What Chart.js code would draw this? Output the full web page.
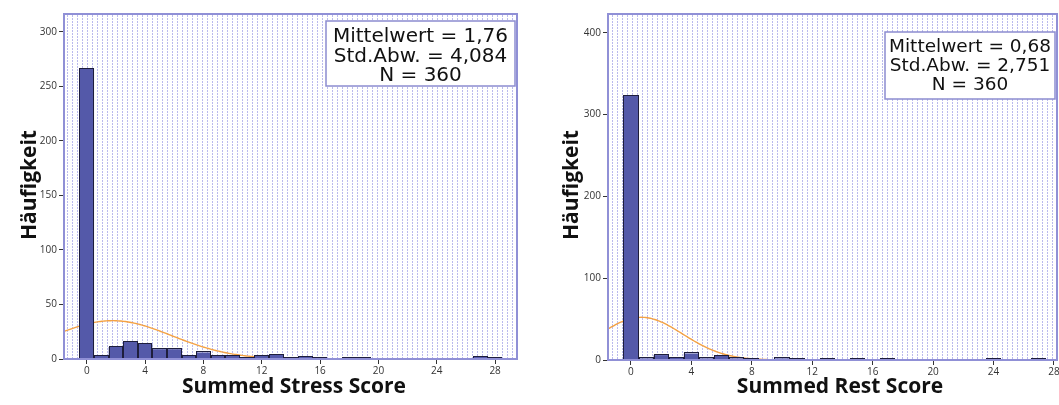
<!DOCTYPE html>
<html>
<head>
<meta charset="utf-8">
<script src="https://cdn.jsdelivr.net/npm/chart.js@4/dist/chart.umd.min.js"></script>
<style>
  html, body { margin: 0; padding: 0; background: #ffffff; }
  body { width: 1059px; height: 405px; position: relative; overflow: hidden; }
  .panel { position: absolute; top: 0; height: 405px; }
  #stressPanel { left: 0; width: 530px; }
  #restPanel { left: 540px; width: 519px; }
</style>
</head>
<body>
<div class="panel" id="stressPanel"><canvas id="stressChart" width="530" height="405"></canvas></div>
<div class="panel" id="restPanel"><canvas id="restChart" width="519" height="405"></canvas></div>
<script>
// Histogram bins (score value) and their frequencies
const stressBins   = [0, 1, 2, 3, 4, 5, 6, 7, 8, 9, 10, 11, 12, 13, 14, 15, 16, 18, 19, 27, 28];
const stressCounts = [266, 3, 11, 16, 14, 9, 9, 3, 6, 3, 3, 1, 3, 4, 1, 2, 1, 1, 1, 2, 1];
const restBins     = [0, 1, 2, 3, 4, 5, 6, 7, 8, 10, 11, 13, 15, 17, 24, 27];
const restCounts   = [323, 2, 6, 3, 8, 2, 5, 2, 1, 2, 1, 1, 1, 1, 1, 1];

// Summary statistics shown in the info boxes
const stressStats = { mean: 1.76, sd: 4.084, n: 360 };
const restStats   = { mean: 0.68, sd: 2.751, n: 360 };
const stressInfo  = ['Mittelwert = 1,76', 'Std.Abw. = 4,084', 'N = 360'];
const restInfo    = ['Mittelwert = 0,68', 'Std.Abw. = 2,751', 'N = 360'];

// Tick labels
const xTicks       = [0, 4, 8, 12, 16, 20, 24, 28];
const stressYTicks = [0, 50, 100, 150, 200, 250, 300];
const restYTicks   = [0, 100, 200, 300, 400];

// Axis titles
const yTitle       = 'Häufigkeit';
const stressXTitle = 'Summed Stress Score';
const restXTitle   = 'Summed Rest Score';

// Expected frequencies of a normal distribution with the given mean/SD (bin width 1)
function normalCurve(stats, from, to) {
  const pts = [];
  const k = stats.n / (stats.sd * Math.sqrt(2 * Math.PI));
  for (let x = from; x <= to + 1e-9; x += 0.1) {
    const z = (x - stats.mean) / stats.sd;
    pts.push({ x: x, y: k * Math.exp(-0.5 * z * z) });
  }
  return pts;
}

function dotPattern(ctx) {
  const c = document.createElement('canvas');
  c.width = 5; c.height = 3;
  const g = c.getContext('2d');
  g.fillStyle = '#ffffff';
  g.fillRect(0, 0, 5, 3);
  g.fillStyle = 'rgba(130,130,222,0.55)';
  g.fillRect(2, 0, 1, 2);
  return ctx.createPattern(c, 'repeat');
}

const panelDecor = {
  id: 'panelDecor',
  beforeDraw(chart, args, o) {
    const { ctx, chartArea: a } = chart;
    ctx.save();
    ctx.fillStyle = dotPattern(ctx);
    ctx.fillRect(a.left, a.top, a.right - a.left, a.bottom - a.top);
    ctx.restore();
  },
  afterDatasetsDraw(chart, args, o) {
    const { ctx, chartArea: a } = chart;
    ctx.save();
    // dark outline around every histogram bar (kept visible even for 1-count bins)
    ctx.strokeStyle = '#1e1e3c';
    ctx.lineWidth = 1;
    chart.getDatasetMeta(0).data.forEach(bar => {
      const p = bar.getProps(['x', 'y', 'base', 'width'], true);
      const l = Math.round(p.x - p.width / 2) + 0.5;
      const r = Math.round(p.x + p.width / 2) - 0.5;
      const t = Math.round(p.y) - 0.5;
      const b = Math.round(p.base) - 0.5;
      ctx.strokeRect(l, t, r - l, b - t);
    });
    // plot frame
    ctx.strokeStyle = '#9090d6';
    ctx.lineWidth = 2;
    ctx.strokeRect(a.left, a.top, a.right - a.left, a.bottom - a.top);
    // statistics box
    const bx = a.right - o.boxRight - o.boxW, by = a.top + o.boxTop;
    ctx.fillStyle = '#ffffff';
    ctx.fillRect(bx, by, o.boxW, o.boxH);
    ctx.strokeStyle = '#8c8cd0';
    ctx.lineWidth = 1.5;
    ctx.strokeRect(bx, by, o.boxW, o.boxH);
    ctx.fillStyle = '#111111';
    ctx.font = o.boxFont;
    ctx.textAlign = 'center';
    ctx.textBaseline = 'middle';
    o.lines.forEach((t, i) => ctx.fillText(t, bx + o.boxW / 2, by + o.lineY[i]));
    ctx.restore();
  },
  afterDraw(chart, args, o) {
    const ctx = chart.ctx;
    ctx.save();
    ctx.fillStyle = '#111111';
    ctx.font = 'bold 21px "Open Sans", sans-serif';
    ctx.textAlign = 'center';
    ctx.textBaseline = 'middle';
    ctx.fillText(o.xTitle, o.xTitleX, o.xTitleY);
    ctx.translate(o.yTitleX, o.yTitleY);
    ctx.rotate(-Math.PI / 2);
    ctx.fillText(o.yTitle, 0, 0);
    ctx.restore();
  }
};

function histogram(canvasId, p) {
  const tickFont = { family: '"Open Sans", sans-serif', size: 10 };
  return new Chart(document.getElementById(canvasId), {
    type: 'bar',
    data: {
      datasets: [
        {
          type: 'bar',
          data: p.bins.map((b, i) => ({ x: b, y: p.counts[i] })),
          backgroundColor: '#5459a9',
          borderWidth: 0,
          inflateAmount: 0,
          barPercentage: 1,
          categoryPercentage: 1,
          order: 1
        },
        {
          type: 'line',
          data: normalCurve(p.stats, p.xMin, p.xMax),
          borderColor: '#f4a244',
          borderWidth: 1.4,
          pointRadius: 0,
          tension: 0,
          fill: false,
          order: 2
        }
      ]
    },
    options: {
      responsive: false,
      animation: false,
      devicePixelRatio: 1,
      layout: { padding: { top: 14, right: p.padRight, left: 0, bottom: 0 } },
      plugins: {
        legend: { display: false },
        tooltip: { enabled: false },
        panelDecor: p.decor
      },
      scales: {
        x: {
          type: 'linear',
          min: p.xMin,
          max: p.xMax,
          offset: false,
          border: { display: false },
          grid: { offset: false, drawOnChartArea: false, drawTicks: true, tickLength: 5, color: '#333333' },
          ticks: { font: tickFont, color: '#333333', padding: 1, autoSkip: false, maxRotation: 0 },
          afterBuildTicks: s => { s.ticks = xTicks.map(v => ({ value: v })); },
          afterFit: s => { s.height = p.xAxisH; s.paddingLeft = 0; s.paddingRight = 0; }
        },
        y: {
          type: 'linear',
          min: 0,
          max: p.yMax,
          border: { display: false },
          grid: { drawOnChartArea: false, drawTicks: true, tickLength: 5, color: '#333333' },
          ticks: { font: tickFont, color: '#333333', padding: 2 },
          afterBuildTicks: s => { s.ticks = p.yTicks.map(v => ({ value: v })); },
          afterFit: s => { s.width = p.yAxisW; s.paddingTop = 0; s.paddingBottom = 0; }
        }
      }
    },
    plugins: [panelDecor]
  });
}

histogram('stressChart', {
  bins: stressBins, counts: stressCounts, stats: stressStats,
  xMin: -1.56, xMax: 29.5, yMax: 316.5, yTicks: stressYTicks,
  padRight: 13, yAxisW: 64, xAxisH: 46,
  decor: {
    lines: stressInfo, boxRight: 2, boxTop: 7, boxW: 189, boxH: 65,
    boxFont: '20px "DejaVu Sans", sans-serif', lineY: [16, 36, 55],
    xTitle: stressXTitle, xTitleX: 294, xTitleY: 387,
    yTitle: yTitle, yTitleX: 30, yTitleY: 185
  }
});

histogram('restChart', {
  bins: restBins, counts: restCounts, stats: restStats,
  xMin: -1.52, xMax: 28.2, yMax: 423, yTicks: restYTicks,
  padRight: 2, yAxisW: 68, xAxisH: 45,
  decor: {
    lines: restInfo, boxRight: 2, boxTop: 18, boxW: 170, boxH: 67,
    boxFont: '18.5px "DejaVu Sans", sans-serif', lineY: [15, 34, 53],
    xTitle: restXTitle, xTitleX: 300, xTitleY: 387,
    yTitle: yTitle, yTitleX: 32, yTitleY: 185
  }
});
</script>
</body>
</html>
